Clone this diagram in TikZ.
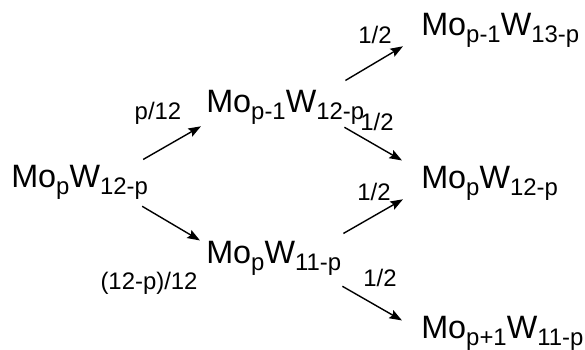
\documentclass[tikz,border=0pt]{standalone}
\usepackage{fontspec}
\setmainfont{Liberation Sans}
\usetikzlibrary{arrows.meta}

\def\subtxt#1{\raisebox{-5pt}{\fontsize{17}{17}\selectfont #1}}

\begin{document}
\begin{tikzpicture}[x=0.025cm, y=-0.025cm,
    species/.style={anchor=base west, inner sep=0pt, font=\fontsize{23}{23}\selectfont},
    rate/.style={anchor=center, inner sep=0pt, font=\fontsize{17}{17}\selectfont},
    arr/.style={line width=1pt, -{Stealth[length=9pt, width=6.5pt, inset=1.5pt]}}]
      \useasboundingbox (0,0) rectangle (585,349);
      % species
      \node[species] (L)  at (11, 187) {Mo\subtxt{p}W\subtxt{12-p}};
      \node[species] (T)  at (206, 112) {Mo\subtxt{p-1}W\subtxt{12-p}};
      \node[species] (B)  at (206, 263) {Mo\subtxt{p}W\subtxt{11-p}};
      \node[species] (R1) at (421, 35) {Mo\subtxt{p-1}W\subtxt{13-p}};
      \node[species] (R2) at (421, 188) {Mo\subtxt{p}W\subtxt{12-p}};
      \node[species] (R3) at (421, 338) {Mo\subtxt{p+1}W\subtxt{11-p}};
      % rates
      \node[rate] (kT)  at (158, 113) {p/12};
      \node[rate] (kB)  at (149, 283) {(12-p)/12};
      \node[rate] (kR1) at (375, 35) {1/2};
      \node[rate] (kR2) at (377, 122) {1/2};
      \node[rate] (kR3) at (374, 192) {1/2};
      \node[rate] (kR4) at (380, 278) {1/2};
      % arrows
      \draw[arr] ([shift={(-5,-5)}]L.north east) -- ([shift={(-5,2)}]T.south west);
      \draw[arr] ([shift={(-6,7)}]L.south east) -- ([shift={(-6,0)}]B.north west);
      \draw[arr] ([shift={(-19,-9)}]T.north east) -- ([shift={(-18,-1)}]R1.south west);
      \draw[arr] ([shift={(-20,3)}]T.south east) -- ([shift={(-19,-5)}]R2.north west);
      \draw[arr] ([shift={(2,-7)}]B.north east) -- ([shift={(-18,-1)}]R2.south west);
      \draw[arr] ([shift={(1,11)}]B.south east) -- ([shift={(-19,5)}]R3.north west);
\end{tikzpicture}
\end{document}
